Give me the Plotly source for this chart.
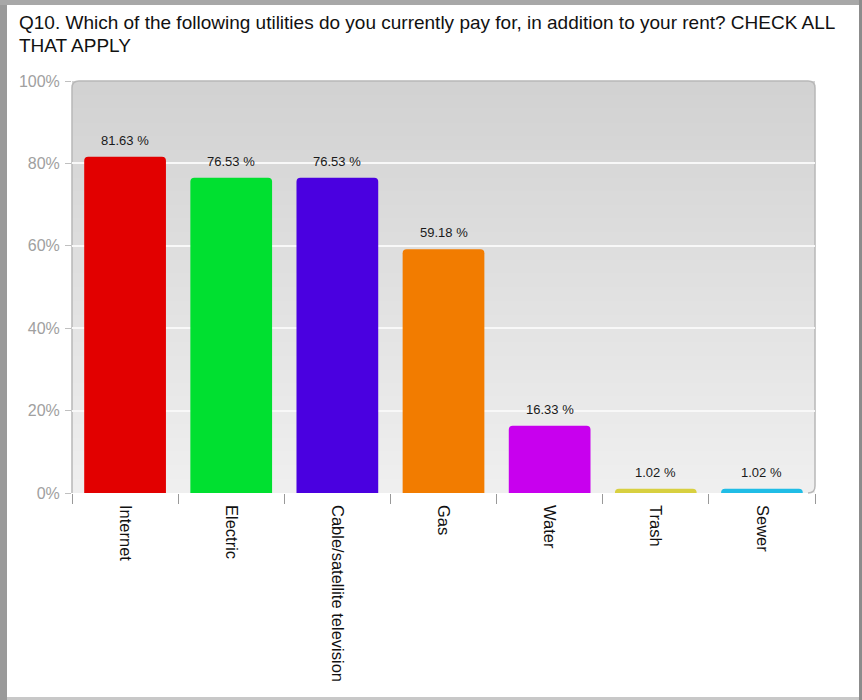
import plotly.graph_objects as go

# Survey results: share of respondents paying each utility
categories = ["Internet", "Electric", "Cable/satellite television", "Gas", "Water", "Trash", "Sewer"]
percentages = [81.63, 76.53, 76.53, 59.18, 16.33, 1.02, 1.02]
bar_colors = ["#e20000", "#00e030", "#4a00e0", "#f27c00", "#c800ee", "#d8d040", "#20bde6"]
y_ticks = [0, 20, 40, 60, 80, 100]
y_tick_labels = ["0%", "20%", "40%", "60%", "80%", "100%"]
title_lines = [
    "Q10. Which of the following utilities do you currently pay for, in addition to your rent? CHECK ALL",
    "THAT APPLY",
]

W, H = 862, 700
ML, MR, MT, MB = 72, 47, 81, 207
PW, PH = W - ML - MR, H - MT - MB
FONT = "Liberation Sans, Arial, sans-serif"


def px(x):
    return (x - ML) / PW


def py(y):
    return (H - MB - y) / PH


fig = go.Figure()
fig.add_trace(go.Bar(
    x=categories,
    y=percentages,
    marker=dict(color=bar_colors, line=dict(width=0), cornerradius=4),
    width=0.77,
    hoverinfo="x+y",
))

shapes = []
# vertical gradient of the plotting area (bands overlap slightly to avoid seams)
n_bands = 60
for i in range(n_bands):
    t = i / (n_bands - 1)
    c = int(round(0xef + (0xd2 - 0xef) * t))
    shapes.append(dict(
        type="rect", xref="paper", yref="paper",
        x0=0, x1=1, y0=i / n_bands, y1=min(1, (i + 1.6) / n_bands),
        fillcolor=f"rgb({c},{c},{c})", line=dict(width=0), layer="below",
    ))
# rounded outline of the plotting area
r = 7
x0, x1, y0, y1 = ML, W - MR, MT, H - MB
path = (f"M {px(x0)},{py(y1)} L {px(x0)},{py(y0 + r)} Q {px(x0)},{py(y0)} {px(x0 + r)},{py(y0)} "
        f"L {px(x1 - r)},{py(y0)} Q {px(x1)},{py(y0)} {px(x1)},{py(y0 + r)} "
        f"L {px(x1)},{py(y1 - r)} Q {px(x1)},{py(y1)} {px(x1 - r)},{py(y1)}")
shapes.append(dict(type="path", xref="paper", yref="paper", path=path,
                   line=dict(color="#b8b8b8", width=1.5), layer="below"))
# outer frame of the panel
shapes += [
    dict(type="rect", xref="paper", yref="paper", x0=px(0), x1=px(7), y0=py(0), y1=py(H),
         fillcolor="#9a9a9a", line=dict(width=0)),
    dict(type="rect", xref="paper", yref="paper", x0=px(0), x1=px(W), y0=py(0), y1=py(5),
         fillcolor="#a8a8a8", line=dict(width=0)),
    dict(type="rect", xref="paper", yref="paper", x0=px(859), x1=px(W), y0=py(0), y1=py(H),
         fillcolor="#8c8c8c", line=dict(width=0)),
    dict(type="rect", xref="paper", yref="paper", x0=px(7), x1=px(859), y0=py(697), y1=py(H),
         fillcolor="#c8c8c8", line=dict(width=0)),
]

annotations = []
for cat, val in zip(categories, percentages):
    annotations.append(dict(
        x=cat, y=val, xref="x", yref="y", text=f"{val:.2f} %",
        showarrow=False, yanchor="bottom", yshift=7,
        font=dict(family=FONT, size=13, color="#1a1a1a"),
    ))
for i, line in enumerate(title_lines):
    annotations.append(dict(
        x=px(17), y=py(10 + 23 * i), xref="paper", yref="paper", xanchor="left", yanchor="top",
        text=line, showarrow=False,
        font=dict(family=FONT, size=19, color="#111111"),
    ))

fig.update_layout(
    width=W, height=H,
    margin=dict(l=ML, r=MR, t=MT, b=MB),
    paper_bgcolor="white",
    plot_bgcolor="rgba(0,0,0,0)",
    showlegend=False,
    shapes=shapes,
    annotations=annotations,
    font=dict(family=FONT),
)
fig.update_xaxes(
    type="category", range=[-0.5, 6.5],
    ticks="outside", tickson="boundaries", ticklen=10, tickcolor="#999999", tickwidth=1,
    tickangle=90, tickfont=dict(size=16.5, color="#111111"), ticklabelstandoff=11,
    showgrid=False, zeroline=False, showline=False,
)
fig.update_yaxes(
    range=[0, 100], tickvals=y_ticks, ticktext=y_tick_labels,
    ticks="outside", ticklen=6, tickcolor="#c0c0c0",
    tickfont=dict(size=16, color="#a0a0a0"), ticklabelstandoff=2,
    showgrid=True, gridcolor="#f8f8f8", gridwidth=1.5,
    zeroline=False, showline=False,
)

fig.write_html("out.html")
